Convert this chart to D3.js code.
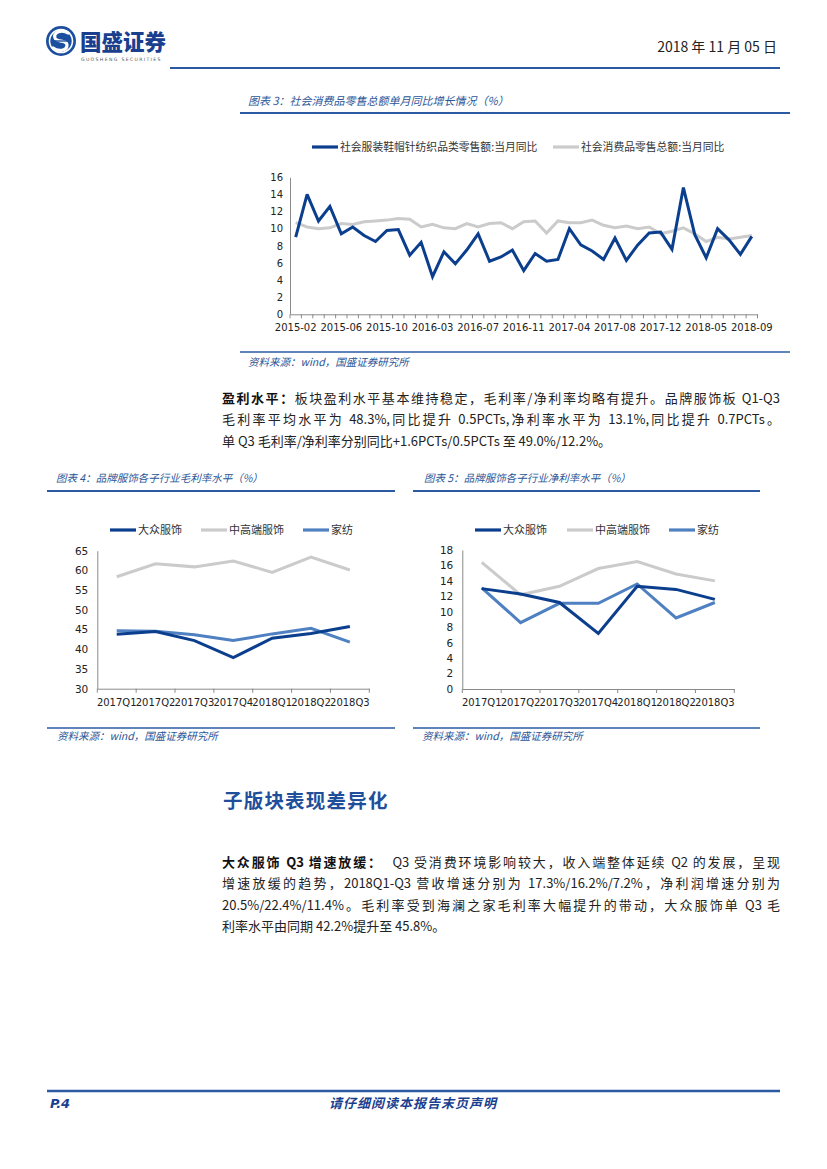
<!DOCTYPE html>
<html><head><meta charset="utf-8">
<script src="https://cdn.jsdelivr.net/npm/d3@7/dist/d3.min.js"></script>
<style>
html,body{margin:0;padding:0;background:#fff;}
#page{position:relative;width:827px;height:1169px;background:#fff;overflow:hidden;}
svg{position:absolute;left:0;top:0;}
.para{position:absolute;font-family:"Noto Sans CJK SC","Liberation Sans",sans-serif;font-size:13px;color:#222;white-space:nowrap;}
.para .ln{height:21.3px;line-height:21.3px;text-align:justify;text-align-last:justify;}
.para .ln.last{text-align-last:left;}
.para b{font-weight:700;color:#111;}
</style></head>
<body><div id="page"></div>
<script>
// ---------- DATA ----------
const months = ["2015-02","2015-03","2015-04","2015-05","2015-06","2015-07","2015-08","2015-09","2015-10","2015-11","2015-12",
 "2016-02","2016-03","2016-04","2016-05","2016-06","2016-07","2016-08","2016-09","2016-10","2016-11","2016-12",
 "2017-02","2017-03","2017-04","2017-05","2017-06","2017-07","2017-08","2017-09","2017-10","2017-11","2017-12",
 "2018-02","2018-03","2018-04","2018-05","2018-06","2018-07","2018-08","2018-09"];
const clothingYoY = [9.0,14.0,10.9,12.6,9.4,10.2,9.2,8.5,9.8,9.9,6.9,
 8.4,4.4,7.3,5.9,7.5,9.4,6.2,6.7,7.5,5.1,7.1,
 6.2,6.4,10.0,8.1,7.4,6.4,8.9,6.3,8.1,9.5,9.6,
 7.6,14.8,9.3,6.6,10.0,8.7,7.0,9.1];
const retailYoY = [10.7,10.2,10.0,10.1,10.6,10.5,10.8,10.9,11.0,11.2,11.1,
 10.2,10.5,10.1,10.0,10.6,10.2,10.6,10.7,10.0,10.8,10.9,
 9.5,10.9,10.7,10.7,11.0,10.4,10.1,10.3,10.0,10.2,9.4,
 9.7,10.1,9.4,8.5,9.0,8.8,9.0,9.2];
const monthTickLabels = ["2015-02","2015-06","2015-10","2016-03","2016-07","2016-11","2017-04","2017-08","2017-12","2018-05","2018-09"];
const chart3Series = ["社会服装鞋帽针纺织品类零售额:当月同比","社会消费品零售总额:当月同比"];

const quarters = ["2017Q1","2017Q2","2017Q3","2017Q4","2018Q1","2018Q2","2018Q3"];
const segNames = ["大众服饰","中高端服饰","家纺"];
const grossMass = [43.8,44.5,42.2,37.9,42.8,44.0,45.8];
const grossHigh = [58.4,61.7,60.9,62.4,59.5,63.4,60.1];
const grossHome = [44.7,44.6,43.7,42.2,43.9,45.3,41.8];
const netMass = [13.0,12.3,11.2,7.2,13.3,12.9,11.6];
const netHigh = [16.4,12.2,13.3,15.6,16.5,14.9,14.0];
const netHome = [13.1,8.6,11.1,11.1,13.6,9.2,11.2];
const grossTicks = [30,35,40,45,50,55,60,65];
const netTicks = [0,2,4,6,8,10,12,14,16,18];
const chart3Ticks = [0,2,4,6,8,10,12,14,16];

// ---------- STYLE ----------
const C_DARK = "#0b3f8e", C_GRAY = "#cbcbcb", C_MID = "#4f80c2", C_RULE = "#2b5aa3", C_TXT = "#2b5597";
const AXIS = "#8a8a8a";
const CJK = '"Noto Sans CJK SC", sans-serif';
const NUM = '"DejaVu Sans", Verdana, sans-serif';

const page = d3.select("#page");
const svg = page.append("svg").attr("width",827).attr("height",1169);

// ---------- HEADER ----------
const logo = svg.append("g");
logo.append("circle").attr("cx",61).attr("cy",41).attr("r",15).attr("fill","#1d4f9e");
logo.append("circle").attr("cx",61).attr("cy",41).attr("r",11.5).attr("fill","none").attr("stroke","#fff").attr("stroke-width",1.6);
logo.append("path").attr("d","M68,33 C62,29 53,32 55,38 C57,43 67,39 67,45 C67,51 58,52 53,48")
  .attr("fill","none").attr("stroke","#fff").attr("stroke-width",3.2).attr("stroke-linecap","round");
logo.append("line").attr("x1",51).attr("x2",71).attr("y1",41).attr("y2",41).attr("stroke","#1d4f9e").attr("stroke-width",1.4);
svg.append("text").attr("x",80).attr("y",50).text("国盛证券")
  .attr("font-family",CJK).attr("font-weight",900).attr("font-size",21.5).attr("fill","#1a3f8f");
svg.append("text").attr("x",81).attr("y",60.5).text("GUOSHENG SECURITIES")
  .attr("font-family",NUM).attr("font-size",4.6).attr("letter-spacing",1.35).attr("fill","#555");
svg.append("text").attr("x",777).attr("y",52).attr("text-anchor","end").text("2018 年 11 月 05 日")
  .attr("font-family",'"Liberation Sans Narrow","Noto Sans CJK SC",sans-serif').attr("font-size",14).attr("fill","#222");
svg.append("line").attr("x1",170).attr("x2",780).attr("y1",68).attr("y2",68).attr("stroke",C_RULE).attr("stroke-width",2.2);

// ---------- helpers ----------
function rule(x1,x2,y,w){ svg.append("line").attr("x1",x1).attr("x2",x2).attr("y1",y).attr("y2",y).attr("stroke",C_RULE).attr("stroke-width",w||2); }
function italicText(x,y,t,size){
  svg.append("text").attr("x",x).attr("y",y).text(t).attr("font-family",CJK).attr("font-style","italic")
    .attr("font-size",size||10.5).attr("fill",C_TXT);
}
function legendItem(x,y,color,label,size){
  svg.append("line").attr("x1",x).attr("x2",x+26).attr("y1",y).attr("y2",y).attr("stroke",color).attr("stroke-width",3.2);
  svg.append("text").attr("x",x+28).attr("y",y).attr("dy","0.36em").text(label)
    .attr("font-family",CJK).attr("font-size",size||10.5).attr("fill","#333");
}
function drawChart(cfg){
  const x = d3.scaleBand().domain(cfg.cats).range(cfg.xr).paddingInner(0).paddingOuter(0);
  const y = d3.scaleLinear().domain(cfg.yd).range(cfg.yr);
  const g = svg.append("g");
  // y axis
  const ya = d3.axisLeft(y).tickValues(cfg.yticks).tickSize(0).tickPadding(cfg.ypad||6).tickFormat(d3.format("d"));
  const yg = g.append("g").attr("transform",`translate(${cfg.xr[0]},0)`).call(ya);
  yg.select(".domain").attr("stroke",AXIS).attr("stroke-width",1);
  yg.selectAll("text").attr("font-family",NUM).attr("font-size",cfg.yfs||10).attr("fill","#222");
  // x axis with ticks at category boundaries
  const xa = d3.axisBottom(x).tickSize(0).tickPadding(cfg.xpad||9).tickValues(cfg.xlabels);
  const xg = g.append("g").attr("transform",`translate(0,${cfg.yr[0]})`).call(xa);
  xg.select(".domain").attr("stroke",AXIS).attr("stroke-width",1);
  xg.selectAll("text").attr("font-family",NUM).attr("font-size",cfg.xfs||10).attr("fill","#222");
  const bounds = cfg.cats.map(d=>x(d)).concat([x(cfg.cats[cfg.cats.length-1])+x.bandwidth()]);
  g.selectAll("line.tk").data(bounds).join("line").attr("class","tk")
    .attr("x1",d=>d).attr("x2",d=>d).attr("y1",cfg.yr[0]).attr("y2",cfg.yr[0]+4)
    .attr("stroke",AXIS).attr("stroke-width",1);
  // series
  const line = d3.line().x((d,i)=>x(cfg.cats[i])+x.bandwidth()/2).y(d=>y(d));
  cfg.series.forEach(s=>{
    g.append("path").datum(s.values).attr("d",line).attr("fill","none")
      .attr("stroke",s.color).attr("stroke-width",s.w||3).attr("stroke-linejoin","miter").attr("stroke-miterlimit",3);
  });
}

// ---------- CHART 3 ----------
italicText(248,105,"图表 3：社会消费品零售总额单月同比增长情况（%）",11);
rule(240,790,113,2);
legendItem(312,147,C_DARK,chart3Series[0],10.8);
legendItem(553,147,C_GRAY,chart3Series[1],10.8);
drawChart({cats:months, xr:[290,757.5], yd:[0,16], yr:[314.3,177.3], yticks:chart3Ticks, xlabels:monthTickLabels,
  yfs:10, xfs:10, ypad:7, xpad:10,
  series:[{values:retailYoY,color:C_GRAY,w:3},{values:clothingYoY,color:C_DARK,w:3}]});
rule(240,790,352,1.6);
italicText(248,366,"资料来源：wind，国盛证券研究所",10.5);

// ---------- PARAGRAPH 1 ----------
function para(left,top,width,lines){
  const d = page.append("div").attr("class","para").style("left",left+"px").style("top",top+"px").style("width",width+"px");
  lines.forEach((l,i)=>{
    d.append("div").attr("class","ln"+(i===lines.length-1?" last":"")).html(l);
  });
}
para(222,387,558,[
  "<b>盈利水平：</b>板块盈利水平基本维持稳定，毛利率/净利率均略有提升。品牌服饰板 Q1-Q3",
  "毛利率平均水平为 48.3%,同比提升 0.5PCTs,净利率水平为 13.1%,同比提升 0.7PCTs。",
  "单 Q3 毛利率/净利率分别同比+1.6PCTs/0.5PCTs 至 49.0%/12.2%。"
]);

// ---------- CHART 4 ----------
italicText(56,482,"图表 4：品牌服饰各子行业毛利率水平（%）",10.5);
rule(47,395,491,2);
legendItem(110,530,C_DARK,segNames[0],11);
legendItem(201,530,C_GRAY,segNames[1],11);
legendItem(303,530,C_MID,segNames[2],11);
drawChart({cats:quarters, xr:[97.3,369.3], yd:[30,65], yr:[688.7,550.7], yticks:grossTicks, xlabels:quarters,
  yfs:10.5, xfs:10, ypad:9, xpad:10,
  series:[{values:grossHigh,color:C_GRAY},{values:grossHome,color:C_MID},{values:grossMass,color:C_DARK}]});
rule(47,395,728,1.6);
italicText(57,740,"资料来源：wind，国盛证券研究所",10.5);

// ---------- CHART 5 ----------
italicText(424,482,"图表 5：品牌服饰各子行业净利率水平（%）",10.5);
rule(413,760,491,2);
legendItem(475,530,C_DARK,segNames[0],11);
legendItem(567,530,C_GRAY,segNames[1],11);
legendItem(669,530,C_MID,segNames[2],11);
drawChart({cats:quarters, xr:[462.3,734.3], yd:[0,18], yr:[689,550], yticks:netTicks, xlabels:quarters,
  yfs:10.5, xfs:10, ypad:9, xpad:10,
  series:[{values:netHigh,color:C_GRAY},{values:netHome,color:C_MID},{values:netMass,color:C_DARK}]});
rule(413,760,728,1.6);
italicText(422,740,"资料来源：wind，国盛证券研究所",10.5);

// ---------- SECTION ----------
svg.append("text").attr("x",223).attr("y",808).text("子版块表现差异化")
  .attr("font-family",CJK).attr("font-weight",700).attr("font-size",19.5).attr("letter-spacing",1.2).attr("fill","#1f4e9a");
para(222,851,558,[
  "<b>大众服饰 Q3 增速放缓：</b>&nbsp;&nbsp;Q3 受消费环境影响较大，收入端整体延续 Q2 的发展，呈现",
  "增速放缓的趋势，2018Q1-Q3 营收增速分别为 17.3%/16.2%/7.2%，净利润增速分别为",
  "20.5%/22.4%/11.4%。毛利率受到海澜之家毛利率大幅提升的带动，大众服饰单 Q3 毛",
  "利率水平由同期 42.2%提升至 45.8%。"
]);

// ---------- FOOTER ----------
rule(47,780,1091,2.4);
svg.append("text").attr("x",50).attr("y",1108).text("P.4").attr("font-family",NUM).attr("font-weight",700)
  .attr("font-style","italic").attr("font-size",13).attr("fill","#1a3f8f");
svg.append("text").attr("x",413).attr("y",1108).attr("text-anchor","middle").text("请仔细阅读本报告末页声明")
  .attr("font-family",CJK).attr("font-weight",700).attr("font-style","italic").attr("font-size",13).attr("letter-spacing",1)
  .attr("fill","#1a3f8f");
</script></body></html>
